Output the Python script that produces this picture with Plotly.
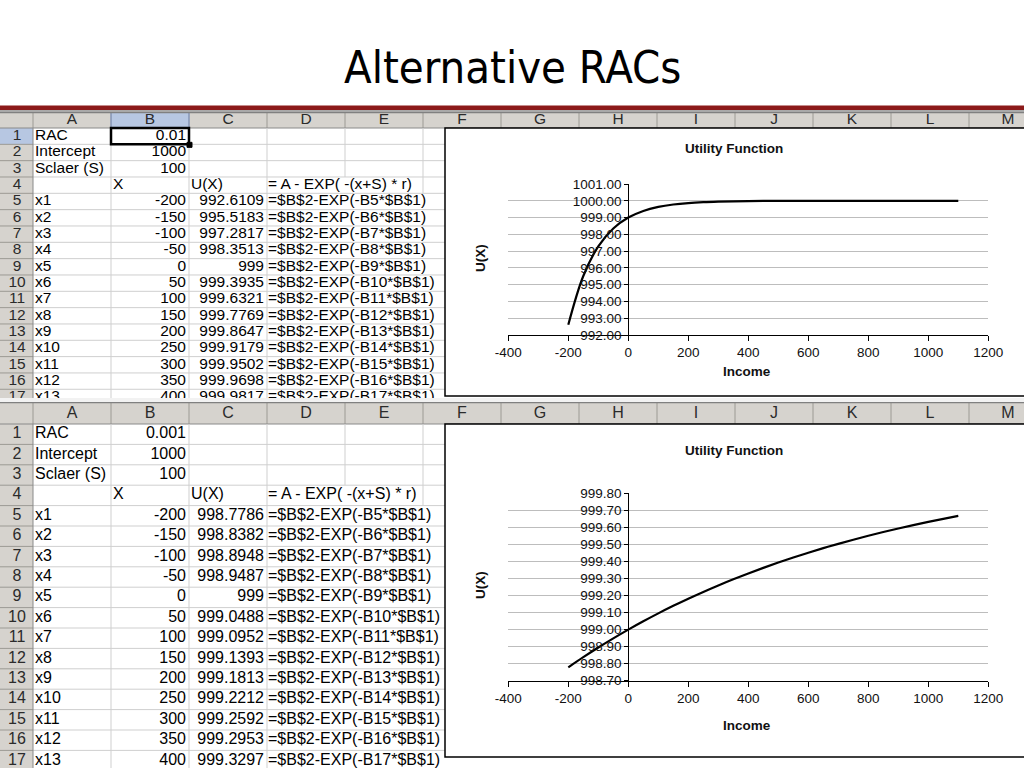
import plotly.graph_objects as go

INCOME = [-200, -150, -100, -50, 0, 50, 100, 150, 200, 250, 300, 350, 400,
          450, 500, 550, 600, 650, 700, 750, 800, 850, 900, 950, 1000, 1050, 1100]
U_RAC_01 = [992.6109, 995.5183, 997.2817, 998.3513, 999.0, 999.3935, 999.6321,
            999.7769, 999.8647, 999.9179, 999.9502, 999.9698, 999.9817,
            999.9889, 999.9933, 999.9959, 999.9975, 999.9985, 999.9991,
            999.9994, 999.9997, 999.9998, 999.9999, 999.9999, 999.9999,
            1000.0, 1000.0]
U_RAC_001 = [998.7786, 998.8382, 998.8948, 998.9487, 999.0, 999.0488, 999.0952,
             999.1393, 999.1813, 999.2212, 999.2592, 999.2953, 999.3297,
             999.3624, 999.3935, 999.4231, 999.4512, 999.4780, 999.5034,
             999.5276, 999.5507, 999.5727, 999.5934, 999.6131, 999.6321,
             999.6501, 999.6671]
PARAM_NAMES = ["RAC", "Intercept", "Sclaer (S)"]
PARAMS_RAC_01 = ["0.01", "1000", "100"]
PARAMS_RAC_001 = ["0.001", "1000", "100"]
ROW4_LABELS = ["X", "U(X)", "= A - EXP( -(x+S) * r)"]
COLUMN_LETTERS = ["A", "B", "C", "D", "E", "F", "G", "H", "I", "J", "K", "L", "M"]
X_TICKS = [-400, -200, 0, 200, 400, 600, 800, 1000, 1200]
Y_RANGE_01 = [992, 1001]
Y_RANGE_001 = [998.7, 999.8]

W, H = 1024, 768
COL_EDGES = [33, 111, 189, 267, 345, 423, 501, 579, 657, 735, 813, 891, 969, 1047]
VISIBLE_ROWS = 13
CELL_FONT = "Liberation Sans, Arial, sans-serif"
HEAD_FILL = "#d6d3ce"
HEAD_EDGE = "#9c9a94"
GRID = "#cfcfcf"
SEL_FILL = "#b7c7e2"
SEL_EDGE = "#7890c4"

panels = [
    dict(xa="x", ya="y", top=112, head=16, row=16.33, bottom=398, box_bottom=396,
         params=PARAMS_RAC_01, u=U_RAC_01, selected=True, font=15.5),
    dict(xa="x2", ya="y2", top=402, head=22, row=20.4, bottom=768, box_bottom=757,
         params=PARAMS_RAC_001, u=U_RAC_001, selected=False, font=16),
]


def fmt(v):
    s = f"{v:.4f}".rstrip("0").rstrip(".")
    return s


def pxy(p):
    return 1 - p / H


shapes = []
fig = go.Figure()

for p in panels:
    xr, yr = p["xa"], p["ya"]
    top, rh = p["top"], p["row"]
    hb = top + p["head"]

    def rect(x0, y0, x1, y1, fill=None, line=None, width=1):
        shapes.append(dict(type="rect", xref=xr, yref=yr, x0=x0, y0=y0, x1=x1, y1=y1,
                           fillcolor=fill or "rgba(0,0,0,0)",
                           line=dict(color=line or "rgba(0,0,0,0)", width=width if line else 0),
                           layer="below"))

    def seg(x0, y0, x1, y1, color, width=1):
        shapes.append(dict(type="line", xref=xr, yref=yr, x0=x0, y0=y0, x1=x1, y1=y1,
                           line=dict(color=color, width=width), layer="below"))

    rect(0, top, W, hb, fill=HEAD_FILL)
    rect(0, hb, 33, p["bottom"], fill=HEAD_FILL)
    if p["selected"]:
        rect(111, top, 189, hb, fill=SEL_FILL)
        rect(0, hb, 33, hb + rh, fill=SEL_FILL)
    for e in COL_EDGES[:-1]:
        seg(e, top, e, hb, HEAD_EDGE)
    if p["selected"]:
        seg(111, top, 111, hb, SEL_EDGE)
        seg(189, top, 189, hb, SEL_EDGE)
    seg(0, top + 0.5, W, top + 0.5, "#808080", 1.5)
    seg(0, hb, W, hb, "#8a8a8a")
    n = int((p["bottom"] - hb) / rh) + 1
    for k in range(1, n + 1):
        y = hb + k * rh
        seg(0, y, 33, y, HEAD_EDGE)
        seg(33, y, 445, y, GRID)
    seg(33, hb, 33, p["bottom"], "#8a8a8a")
    for e in COL_EDGES[1:4]:
        seg(e, hb, e, p["bottom"], GRID)
    seg(345, hb, 345, hb + 3 * rh, GRID)
    seg(423, hb, 423, hb + 4 * rh, GRID)
    # embedded chart area
    rect(445, hb, 1030, p["box_bottom"], fill="white", line="black", width=1.5)
    if p["selected"]:
        rect(111, hb, 189, hb + rh, line="black", width=2.5)
        rect(187, hb + rh - 2, 192, hb + rh + 3, fill="black", line="black", width=1)

    def yrow(r):
        return hb + (r - 0.5) * rh

    # header letters and row numbers
    cx, cy, ct = [], [], []
    for i, letter in enumerate(COLUMN_LETTERS):
        cx.append((COL_EDGES[i] + COL_EDGES[i + 1]) / 2)
        cy.append(top + p["head"] / 2 + 0.5)
        ct.append(letter)
    for r in range(1, 4 + VISIBLE_ROWS + 1):
        cx.append(17)
        cy.append(yrow(r))
        ct.append(str(r))
    fig.add_trace(go.Scatter(x=cx, y=cy, text=ct, mode="text", textposition="middle center",
                             textfont=dict(family=CELL_FONT, size=p["font"], color="#2b2b2b"),
                             xaxis=xr, yaxis=yr, hoverinfo="skip"))

    # left aligned cells
    lx, ly, lt = [], [], []
    for i, name in enumerate(PARAM_NAMES):
        lx.append(35); ly.append(yrow(i + 1)); lt.append(name)
    for xpos, lab in zip([113, 191, 268], ROW4_LABELS):
        lx.append(xpos); ly.append(yrow(4)); lt.append(lab)
    for i in range(VISIBLE_ROWS):
        r = 5 + i
        lx.append(35); ly.append(yrow(r)); lt.append(f"x{i + 1}")
        lx.append(268); ly.append(yrow(r)); lt.append(f"=$B$2-EXP(-B{r}*$B$1)")
    fig.add_trace(go.Scatter(x=lx, y=ly, text=lt, mode="text", textposition="middle right",
                             textfont=dict(family=CELL_FONT, size=p["font"], color="black"),
                             xaxis=xr, yaxis=yr, hoverinfo="skip"))

    # right aligned numbers
    rx, ry, rt = [], [], []
    for i, val in enumerate(p["params"]):
        rx.append(186); ry.append(yrow(i + 1)); rt.append(val)
    for i in range(VISIBLE_ROWS):
        r = 5 + i
        rx.append(186); ry.append(yrow(r)); rt.append(str(INCOME[i]))
        rx.append(264); ry.append(yrow(r)); rt.append(fmt(p["u"][i]))
    fig.add_trace(go.Scatter(x=rx, y=ry, text=rt, mode="text", textposition="middle left",
                             textfont=dict(family=CELL_FONT, size=p["font"], color="black"),
                             xaxis=xr, yaxis=yr, hoverinfo="skip"))

# the two utility curves
fig.add_trace(go.Scatter(x=INCOME, y=U_RAC_01, mode="lines", line=dict(color="black", width=2.2, shape="spline"),
                         xaxis="x3", yaxis="y3", hoverinfo="skip"))
fig.add_trace(go.Scatter(x=INCOME, y=U_RAC_001, mode="lines", line=dict(color="black", width=2.2, shape="spline"),
                         xaxis="x4", yaxis="y4", hoverinfo="skip"))

tick_font = dict(family=CELL_FONT, size=13.5, color="#111")
x_dom = [508.3 / W, 988.3 / W]
y_axis_pos = 628.3 / W


def chart_x(anchor):
    return dict(domain=x_dom, range=[-400, 1200], tickvals=X_TICKS, ticktext=[str(v) for v in X_TICKS],
                anchor=anchor, showline=True, linecolor="black", linewidth=1, ticks="outside",
                ticklen=5, tickcolor="black", showgrid=False, zeroline=False, tickfont=tick_font,
                fixedrange=True, automargin=False)


def chart_y(dom, rng, dtick):
    return dict(domain=dom, range=rng, tick0=rng[0], dtick=dtick, tickformat=".2f", anchor="free",
                position=y_axis_pos, showline=True, linecolor="black", linewidth=1, ticks="outside",
                ticklen=4, tickcolor="black", showgrid=True, gridcolor="#bdbdbd", gridwidth=1,
                zeroline=False, tickfont=tick_font, fixedrange=True, automargin=False)


for ax in ["x3", "x4"]:
    shapes.append(dict(type="rect", xref=f"{ax} domain", yref=f"{ax.replace('x', 'y')} domain",
                       x0=0, x1=1, y0=0, y1=1, line=dict(color="#8c8c8c", width=1), layer="below"))

# slide title bar
shapes.append(dict(type="rect", xref="paper", yref="paper", x0=0, x1=1, y0=pxy(110), y1=pxy(105.5),
                   fillcolor="#8c1a1a", line=dict(width=0), layer="above"))
shapes.append(dict(type="rect", xref="paper", yref="paper", x0=0, x1=1, y0=pxy(112), y1=pxy(110),
                   fillcolor="#a9a9a9", line=dict(width=0), layer="above"))
shapes.append(dict(type="rect", xref="paper", yref="paper", x0=0, x1=1, y0=pxy(402), y1=pxy(398),
                   fillcolor="#f2f2f2", line=dict(width=0), layer="below"))

bold = dict(family="Liberation Sans, Arial, sans-serif", size=13.5, color="#111")
annotations = [
    dict(text="Alternative RACs", x=0.5, y=pxy(67), xref="paper", yref="paper", showarrow=False,
         xanchor="center", yanchor="middle",
         font=dict(family="Liberation Sans Narrow, DejaVu Sans Condensed, sans-serif",
                   size=45, color="black")),
]
for title_y, income_y, ux_y in [(149, 371, 258), (450, 725, 585)]:
    annotations.append(dict(text="<b>Utility Function</b>", x=734 / W, y=pxy(title_y), xref="paper",
                            yref="paper", showarrow=False, xanchor="center", yanchor="middle", font=bold))
    annotations.append(dict(text="<b>Income</b>", x=747 / W, y=pxy(income_y), xref="paper",
                            yref="paper", showarrow=False, xanchor="center", yanchor="middle", font=bold))
    annotations.append(dict(text="<b>U(X)</b>", x=480 / W, y=pxy(ux_y), xref="paper", yref="paper",
                            showarrow=False, textangle=-90, xanchor="center", yanchor="middle", font=bold))

sheet_axis = dict(domain=[0, 1], range=[0, W], visible=False, fixedrange=True, automargin=False)
fig.update_layout(
    width=W, height=H, margin=dict(l=0, r=0, t=0, b=0, pad=0, autoexpand=False),
    paper_bgcolor="white", plot_bgcolor="rgba(0,0,0,0)", showlegend=False,
    xaxis=dict(sheet_axis, anchor="y"),
    yaxis=dict(domain=[pxy(398), pxy(112)], range=[398, 112], visible=False, fixedrange=True,
               automargin=False, anchor="x"),
    xaxis2=dict(sheet_axis, anchor="y2"),
    yaxis2=dict(domain=[0, pxy(402)], range=[768, 402], visible=False, fixedrange=True,
                automargin=False, anchor="x2"),
    xaxis3=chart_x("y3"),
    yaxis3=chart_y([pxy(335), pxy(184)], Y_RANGE_01, 1),
    xaxis4=chart_x("y4"),
    yaxis4=chart_y([pxy(680.7), pxy(493.3)], Y_RANGE_001, 0.1),
    shapes=shapes,
    annotations=annotations,
)

# page body has a default 8px margin; drop it so the figure fills the window
fig.write_html("out.html", config={"displayModeBar": False},
               post_script="document.body.style.margin='0';document.body.style.overflow='hidden';")
